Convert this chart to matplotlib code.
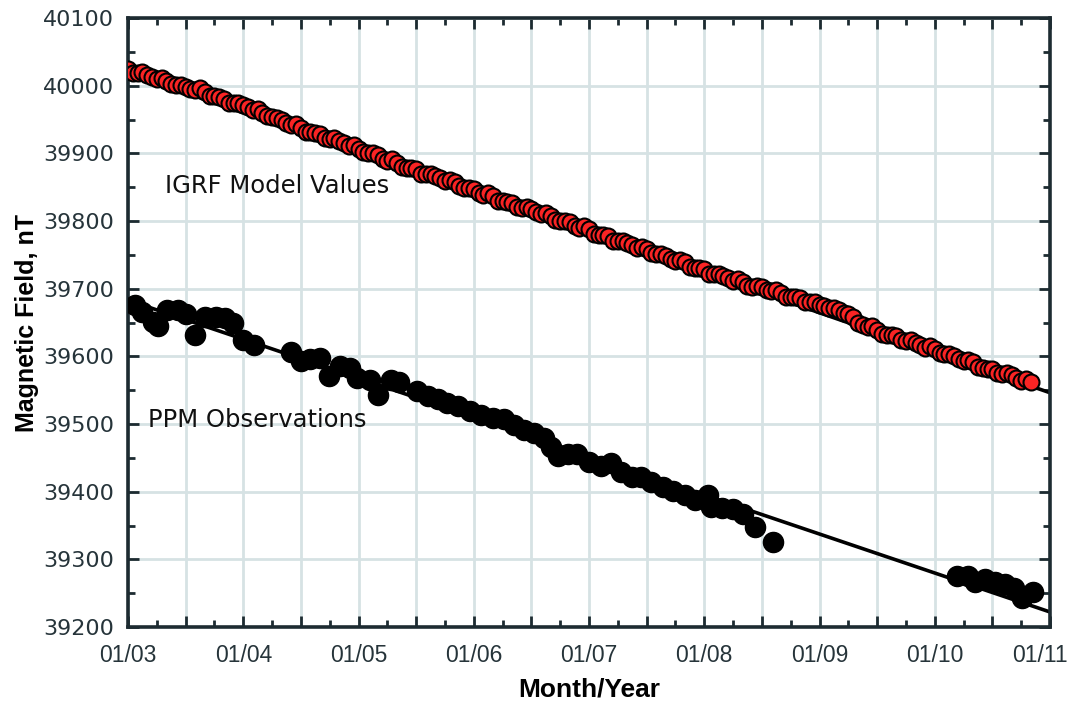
import numpy as np
import matplotlib
matplotlib.use("Agg")
from matplotlib import pyplot as plt
from matplotlib.ticker import FuncFormatter, MultipleLocator
from matplotlib.transforms import ScaledTranslation

# IGRF model values, read at the start of each month from Jan 2003
igrf_values = [
    40024, 40019, 40016, 40010, 40007, 40001, 39998, 39994, 39991, 39984,
    39981, 39974, 39971, 39964, 39960, 39953, 39949, 39942, 39938, 39931,
    39928, 39921, 39918, 39911, 39907, 39901, 39897, 39889, 39886, 39879,
    39877, 39869, 39867, 39859, 39857, 39849, 39847, 39839, 39837, 39829,
    39827, 39819, 39818, 39810, 39808, 39800, 39798, 39790, 39788, 39780,
    39778, 39770, 39768, 39760, 39758, 39751, 39749, 39741, 39739, 39731,
    39729, 39721, 39719, 39712, 39710, 39703, 39703, 39696, 39694, 39688,
    39686, 39680, 39676, 39671, 39668, 39663, 39650, 39644, 39639, 39632,
    39630, 39623, 39620, 39613, 39611, 39603, 39601, 39593, 39591, 39583,
    39581, 39574, 39572, 39564, 39562,
]
# IGRF model values, read at the middle of each month
igrf_mid_values = [
    40019, 40020, 40013, 40012, 40002, 40001, 39995, 39996, 39985, 39983,
    39975, 39975, 39968, 39965, 39955, 39952, 39945, 39943, 39932, 39930,
    39922, 39922, 39915, 39912, 39902, 39900, 39892, 39891, 39880, 39878,
    39870, 39870, 39863, 39861, 39851, 39849, 39842, 39841, 39830, 39828,
    39820, 39820, 39814, 39812, 39802, 39800, 39793, 39792, 39781, 39779,
    39771, 39771, 39764, 39762, 39752, 39751, 39744, 39743, 39732, 39730,
    39722, 39722, 39716, 39714, 39704, 39704, 39698, 39698, 39688, 39687,
    39680, 39680, 39674, 39672, 39664, 39658, 39646, 39645, 39633, 39631,
    39624, 39624, 39617, 39615, 39605, 39603, 39596, 39595, 39584, 39582,
    39575, 39575, 39568, 39566,
]

# PPM observations (decimal year, nT)
ppm_year = [
    2003.06, 2003.12, 2003.22, 2003.26, 2003.34, 2003.43, 2003.50, 2003.58,
    2003.67, 2003.76, 2003.84, 2003.91, 2004.00, 2004.09, 2004.41, 2004.50,
    2004.58, 2004.67, 2004.74, 2004.84, 2004.93, 2004.99, 2005.10, 2005.17,
    2005.28, 2005.35, 2005.51, 2005.60, 2005.69, 2005.77, 2005.86, 2005.97,
    2006.06, 2006.17, 2006.26, 2006.35, 2006.44, 2006.52, 2006.61, 2006.67,
    2006.73, 2006.82, 2006.90, 2007.00, 2007.10, 2007.19, 2007.28, 2007.37,
    2007.45, 2007.54, 2007.64, 2007.73, 2007.83, 2007.92, 2008.03, 2008.06,
    2008.15, 2008.25, 2008.34, 2008.44, 2008.60, 2010.19, 2010.29, 2010.35,
    2010.44, 2010.52, 2010.61, 2010.69, 2010.76, 2010.85,
]
ppm_values = [
    39676, 39666, 39651, 39645, 39669, 39669, 39663, 39632,
    39658, 39658, 39657, 39650, 39624, 39617, 39607, 39593,
    39596, 39598, 39571, 39586, 39583, 39568, 39565, 39543,
    39565, 39562, 39549, 39542, 39537, 39531, 39527, 39519,
    39514, 39509, 39508, 39499, 39491, 39487, 39480, 39466,
    39453, 39455, 39456, 39444, 39438, 39443, 39429, 39421,
    39421, 39415, 39407, 39401, 39395, 39388, 39395, 39378,
    39376, 39375, 39367, 39348, 39326, 39276, 39276, 39267,
    39271, 39267, 39264, 39258, 39243, 39251,
]

# trend lines: value at 01/03 and slope per year
igrf_trend = (40019, -59.1)
ppm_trend = (39683, -57.6)

year_ticks = list(range(2003, 2012))
year_labels = ['01/%02d' % (y % 100) for y in year_ticks]

# merge the monthly and mid-month model values, left to right
igrf_x = np.concatenate([2003 + np.arange(len(igrf_values)) / 12,
                         2003 + (np.arange(len(igrf_mid_values)) + 0.5) / 12])
igrf_y = np.concatenate([igrf_values, igrf_mid_values])
order = np.argsort(igrf_x)
igrf_x, igrf_y = igrf_x[order], igrf_y[order]

dark = '#1d2b31'
grid_col = '#d6e2e4'
sans = ['Liberation Sans', 'DejaVu Sans']

fig = plt.figure(figsize=(10.74, 7.06), dpi=100)
ax = fig.add_axes([128 / 1074, 1 - 627 / 706, 922 / 1074, 609 / 706])

x0, x1 = 2003.0, 2011.0
ax.set_xlim(x0, x1)
ax.set_ylim(39200, 40100)

# trend lines
for start, slope in (igrf_trend, ppm_trend):
    ax.plot([x0, x1], [start, start + slope * (x1 - x0)], color='black',
            lw=2.6, zorder=2, solid_capstyle='butt')

ax.plot(igrf_x, igrf_y, 'o', ms=11.5, mfc='#fa2424', mec='black',
        mew=1.5, zorder=3)
ax.plot(ppm_year, ppm_values, 'o', ms=14.5, mfc='black', mec='black',
        zorder=4)

ax.text(2003.32, 39852, 'IGRF Model Values', fontsize=17.5, color='#111111',
        va='center', ha='left')
ax.text(2003.17, 39506, 'PPM Observations', fontsize=17.5, color='#111111',
        va='center', ha='left')

# ticks and grid
ax.xaxis.set_major_locator(MultipleLocator(0.5))
ax.xaxis.set_minor_locator(MultipleLocator(0.25))
lab = dict(zip(year_ticks, year_labels))
ax.xaxis.set_major_formatter(FuncFormatter(
    lambda v, p: lab.get(int(round(v)), '') if abs(v - round(v)) < 1e-6 else ''))
ax.yaxis.set_major_locator(MultipleLocator(100))
ax.yaxis.set_minor_locator(MultipleLocator(50))
ax.yaxis.set_major_formatter(FuncFormatter(lambda v, p: '%d' % v))

ax.grid(True, which='major', color=grid_col, lw=2.0, zorder=0)
ax.set_axisbelow(True)

ax.tick_params(which='both', direction='in', top=True, right=True,
               color=dark, width=2.0)
ax.tick_params(which='major', length=8)
ax.tick_params(which='minor', length=5)
ax.tick_params(axis='y', labelsize=16, labelcolor='#26343a', pad=10)
ax.tick_params(axis='x', labelsize=16.5, labelcolor='#26343a', pad=12)
for t in ax.get_xticklabels():
    t.set_fontfamily(sans)

for s in ax.spines.values():
    s.set_color(dark)
    s.set_linewidth(2.6)

ax.set_xlabel('Month/Year', fontsize=19, fontweight='bold', family=sans,
              labelpad=8)
ax.set_ylabel('Magnetic Field, nT', fontsize=18, fontweight='bold',
              family=sans, labelpad=3)

# shift the last year label in so it stays inside the picture
fig.canvas.draw()
for t in ax.get_xticklabels():
    if t.get_text() == year_labels[-1]:
        t.set_transform(t.get_transform() +
                        ScaledTranslation(-10 / 100, 0, fig.dpi_scale_trans))

fig.savefig('out.png', dpi=100)
